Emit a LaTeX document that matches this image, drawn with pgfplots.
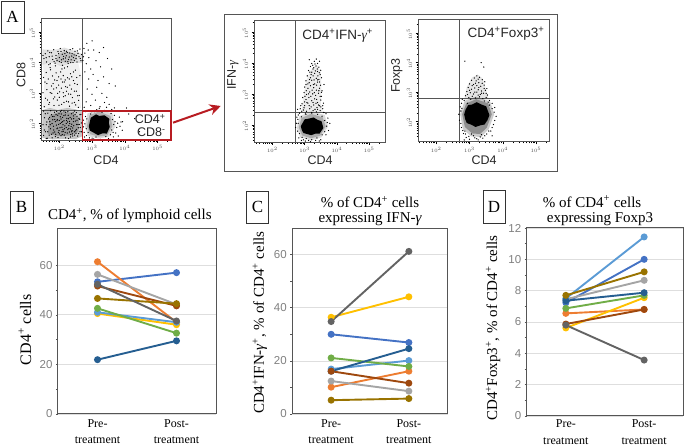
\documentclass[border=0pt]{standalone}
\usepackage{fontspec}
\setmainfont{Liberation Serif}
\newfontfamily\arial{Liberation Sans}
\usepackage{pgfplots}
\pgfplotsset{compat=1.18}
\usetikzlibrary{arrows.meta}

\definecolor{cBlue}{HTML}{4472C4}
\definecolor{cOrange}{HTML}{ED7D31}
\definecolor{cGray}{HTML}{A5A5A5}
\definecolor{cYellow}{HTML}{FFC000}
\definecolor{cLight}{HTML}{5B9BD5}
\definecolor{cGreen}{HTML}{70AD47}
\definecolor{cDark}{HTML}{255E91}
\definecolor{cBrown}{HTML}{9E480E}
\definecolor{cSlate}{HTML}{636363}
\definecolor{cOlive}{HTML}{997300}
\definecolor{frameC}{HTML}{555555}
\definecolor{tickC}{HTML}{808080}
\definecolor{redC}{HTML}{B81C22}

\tikzset{gate/.style={draw=frameC, line width=0.9pt}}
\pgfplotsset{
  paired/.style={
    scale only axis, anchor=south west,
    xmin=-0.5, xmax=1.5, ymin=0,
    xtick={0,1}, xticklabels={{Pre-\\[4.5pt]treatment},{Post-\\[4.5pt]treatment}},
    x tick label style={align=center, font=\fontsize{12}{12}\selectfont, yshift=0pt},
    x tick style={draw=none},
    axis line style={draw=frameC, line width=1pt},
    tick align=outside, ytick pos=left,
    y tick style={draw=frameC, line width=0.5pt},
    major tick length=2pt, minor tick length=2pt,
    minor y tick num=1,
    ymajorgrids, grid style={draw=black!13, line width=0.7pt},
    y tick label style={font=\arial\fontsize{11.5}{13}\selectfont, text=tickC, /pgf/number format/assume math mode=true},
    title style={font=\fontsize{15}{15}\selectfont, align=center},
    ylabel style={font=\fontsize{15}{16}\selectfont},
    every axis plot/.append style={line width=1.9pt, mark=*, mark size=2.5pt, mark options={solid}},
  },
  flow/.style={
    scale only axis, anchor=south west,
    axis line style={draw=frameC, line width=0.7pt},
    xtick={200,300,400,500}, ytick={200,300,400,500},
    xticklabels={$10^2$,$10^3$,$10^4$,$10^5$}, yticklabels={$10^2$,$10^3$,$10^4$,$10^5$},
    minor xtick={150,160,170,178,185,190,195,230,248,260,270,278,285,290,295,330,348,360,370,378,385,390,395,430,448,460,470,478,485,490,495,530},
    minor ytick={150,160,170,178,185,190,195,230,248,260,270,278,285,290,295,330,348,360,370,378,385,390,395,430,448,460,470,478,485,490,495,530},
    tick pos=left, tick align=outside,
    tick style={draw=black, line width=0.35pt},
    major tick length=2.6pt, minor tick length=1.6pt,
    x tick label style={font=\arial\fontsize{5.5}{6}\selectfont, text=black!70, yshift=1pt},
    y tick label style={font=\arial\fontsize{5.5}{6}\selectfont, text=black!70, rotate=90, anchor=south, xshift=-1pt},
  },
  dots/.style={only marks, mark=*, mark size=0.36pt, black, mark options={draw=none, fill=black}},
  haze/.style={fill=black, draw=none, opacity=#1},
}

\begin{document}
\begin{tikzpicture}[x=1pt,y=1pt]
\path[use as bounding box] (0,0) rectangle (685,446);

% --- A, gating plot
\begin{axis}[flow, at={(41.3pt,306pt)}, width=130.4pt, height=122pt, xmin=145, xmax=543, ymin=145, ymax=545]
\addplot[haze=0.22] coordinates {(148,152)(180,147)(215,149)(250,148)(272,158)(270,200)(274,238)(248,246)(225,250)(195,244)(170,250)(148,243)} -- cycle;
\addplot[haze=0.22] coordinates {(165,165)(195,158)(235,160)(258,172)(260,215)(240,235)(200,238)(170,225)} -- cycle;
\addplot[haze=0.12] coordinates {(148,392)(175,398)(205,388)(240,396)(272,398)(274,425)(250,436)(215,448)(185,440)(148,442)} -- cycle;
\addplot[haze=0.15] coordinates {(190,402)(225,398)(255,408)(250,428)(215,436)(195,424)} -- cycle;
\addplot[haze=0.06] coordinates {(150,250)(190,246)(266,250)(262,300)(268,350)(258,396)(205,390)(150,396)(154,330)} -- cycle;
\addplot[haze=0.15] coordinates {(278,190)(288,158)(320,150)(352,156)(372,190)(362,232)(320,245)(286,232)} -- cycle;
\addplot[haze=0.2] coordinates {(284,190)(294,164)(320,156)(346,160)(362,190)(356,224)(320,238)(292,226)} -- cycle;
\addplot[fill=black, draw=none] coordinates {(290,190)(293,176)(303,170)(318,161)(332,167)(345,166)(354,188)(351,202)(353,214)(338,226)(322,224)(312,229)(296,218)(293,204)} -- cycle;
\addplot[dots] coordinates {
(152,160)(158,172)(163,151)(168,188)(171,205)(176,164)(179,222)(183,178)(185,236)(188,156)(191,194)(194,212)(197,170)(199,231)(202,185)(205,159)(207,203)(210,219)(212,174)(214,240)(217,191)(219,152)(222,209)(224,168)(227,226)(229,183)(232,199)(234,155)(237,214)(239,176)(242,234)(244,192)(247,161)(249,207)(252,180)(254,223)(257,196)(259,166)(262,213)(264,186)(266,229)(155,218)(160,195)(165,233)(169,161)(174,241)(178,199)(181,168)(186,212)(190,228)(193,182)(196,153)(200,209)(204,238)(208,172)(211,195)(215,161)(218,227)(221,186)(225,204)(228,150)(233,219)(236,189)(240,165)(243,205)(246,240)(250,175)(253,196)(256,158)(260,216)(263,172)(267,201)
(216,182)(203,221)(231,171)(188,205)(244,215)(162,204)(209,163)(226,238)(178,152)(251,167)(195,226)(238,197)(154,178)(221,199)(207,242)(182,190)(263,228)(170,219)(235,163)(199,176)(248,229)(157,231)(214,208)(229,192)(186,171)(241,184)(173,182)(205,214)(258,185)(192,239)(223,216)(150,195)(211,179)(237,231)(165,172)(198,196)(246,172)(218,170)(180,211)(231,206)(254,210)(160,150)(208,187)(189,164)(226,179)(203,199)(268,172)(176,228)(241,158)(214,225)(195,184)(152,240)(234,181)(261,196)(184,222)(219,236)(167,214)(200,165)(243,224)(210,205)(228,215)(193,208)(172,195)(252,235)(206,230)(238,172)
(153,412)(157,428)(161,401)(165,437)(169,418)(172,395)(176,431)(180,409)(183,441)(187,397)(190,422)(193,406)(196,435)(200,415)(203,445)(206,399)(209,426)(212,411)(215,438)(218,403)(221,421)(224,432)(227,396)(230,417)(233,441)(236,408)(239,428)(242,399)(245,424)(248,436)(251,412)(254,401)(257,429)(260,418)(263,443)(266,405)(268,425)
(213,419)(228,409)(198,428)(243,415)(222,436)(207,408)(238,420)(217,428)(252,422)(190,412)(232,430)(205,435)(246,405)(178,420)(160,415)(171,432)(226,402)(255,437)(184,402)(150,422)(241,444)(264,412)(200,402)(219,414)(235,399)
(154,254)(158,282)(162,310)(166,345)(170,268)(173,375)(177,298)(181,330)(184,258)(188,388)(191,316)(194,276)(198,352)(201,303)(204,368)(207,262)(210,335)(213,287)(216,381)(219,320)(222,272)(225,349)(228,296)(231,256)(234,362)(237,312)(240,284)(243,340)(246,268)(249,374)(252,305)(255,327)(258,252)(261,291)(263,356)(156,335)(160,366)(164,276)(168,392)(172,300)(179,355)(186,286)(193,340)(199,259)(206,315)(212,356)(218,290)(225,385)(232,325)(239,266)(246,305)(253,350)(259,275)
(212,300)(183,312)(224,318)(200,285)(235,295)(168,262)(190,365)(218,342)(205,345)(243,368)(176,322)(230,345)(195,298)(152,350)(247,330)(214,268)(172,382)(256,290)(186,342)(208,378)(222,305)(162,330)(238,352)(198,325)(215,335)(150,300)(228,270)(182,280)(250,260)(210,390)
(275,445)(284,462)(300,470)(278,430)(290,415)(305,440)(322,432)(335,448)(282,395)(296,378)(312,405)(326,385)(347,412)(360,378)(278,368)(290,345)(303,360)(318,340)(335,352)(352,330)(371,322)(285,312)(300,295)(314,318)(330,298)(345,285)(282,270)(296,258)(310,276)(324,254)(338,268)(276,252)(352,262)(368,250)(405,250)(412,230)(393,205)(445,172)(430,215)(274,418)(272,405)(288,440)
(276,170)(280,222)(283,160)(286,240)(292,152)(298,238)(305,148)(314,244)(326,147)(338,242)(350,150)(358,232)(364,170)(370,205)(375,186)(380,158)(383,220)(392,177)(360,245)(344,252)(278,198)(282,182)
(274,210)(277,155)(288,170)(284,214)(300,151)(312,155)(308,238)(330,236)(322,249)(342,156)(356,162)(360,178)(366,196)(362,212)(368,226)(372,168)(378,200)(385,190)(350,240)(296,230)(274,188)(280,238)(365,155)(388,204)
};
\draw[gate] (axis cs:270,145) -- (axis cs:270,545);
\draw[gate, line width=0.7pt] (axis cs:145,243) -- (axis cs:270,243);
\end{axis}

% --- A, IFN-gamma plot
\begin{axis}[flow, at={(254.3pt,303.7pt)}, width=131.4pt, height=122.3pt, xmin=144, xmax=551, ymin=144, ymax=538]
\addplot[haze=0.08] coordinates {(290,240)(296,290)(304,340)(318,375)(338,395)(350,370)(352,320)(350,270)(356,240)} -- cycle;
\addplot[haze=0.14] coordinates {(276,190)(286,160)(320,150)(352,160)(372,195)(362,232)(320,244)(284,228)} -- cycle;
\addplot[haze=0.22] coordinates {(282,192)(292,166)(320,157)(348,165)(365,195)(356,224)(320,236)(290,222)} -- cycle;
\addplot[fill=black, draw=none] coordinates {(288,196)(291,184)(296,174)(320,167)(334,172)(346,172)(358,190)(352,212)(340,216)(328,224)(312,220)(300,218)} -- cycle;
\addplot[dots] coordinates {
(336,412)(330,405)(322,398)(340,398)(346,405)(318,388)(328,384)(335,390)(344,386)(350,376)(312,375)(322,370)(331,366)(340,372)(348,362)(308,358)(318,352)(326,358)(336,350)(344,346)(352,352)(304,342)(314,336)(322,344)(331,332)(340,338)(349,328)(300,322)(310,318)(318,326)(328,320)(336,312)(346,318)(354,310)(298,304)(306,298)(316,306)(325,300)(334,295)(343,302)(352,292)(294,288)(304,282)(313,288)(322,278)(331,284)(340,272)(350,280)(358,270)(292,268)(300,262)(310,270)(320,258)(328,264)(338,256)(346,262)(356,252)(286,252)(296,248)(306,244)(316,252)(326,246)(336,242)(348,246)(360,240)(284,238)(276,225)(274,205)(278,180)(282,158)(290,150)(302,148)(318,146)(334,150)(350,152)(366,168)(374,182)(378,205)(372,222)(366,236)(314,410)(326,380)(304,330)(360,330)(278,250)
(332,396)(339,380)(325,392)(345,368)(333,374)(320,362)(341,358)(329,345)(315,346)(337,328)(323,312)(344,310)(312,300)(330,304)(348,292)(301,292)(319,292)(337,282)(307,272)(326,272)(343,264)(298,255)(314,262)(332,250)(350,258)(291,244)(322,240)(340,250)(302,238)(356,262)(288,262)(310,332)(346,338)(316,370)(340,345)(327,330)(305,310)(352,305)(300,274)(335,270)
(280,205)(284,172)(292,160)(305,156)(322,152)(338,158)(354,168)(362,178)(368,196)(362,214)(354,228)(340,234)(322,238)(304,234)(290,226)(279,218)(272,192)(296,152)(312,150)(345,148)(370,208)(280,232)(358,240)
};
\draw[gate] (axis cs:271,144) -- (axis cs:271,538);
\draw[gate] (axis cs:144,240) -- (axis cs:551,240);
\end{axis}

% --- A, Foxp3 plot
\begin{axis}[flow, at={(418.3pt,304.3pt)}, width=130.7pt, height=122.7pt, xmin=146, xmax=539, ymin=132, ymax=548]
\addplot[haze=0.1] coordinates {(284,275)(292,318)(308,350)(325,360)(340,345)(350,305)(358,275)} -- cycle;
\addplot[haze=0.2] coordinates {(272,225)(280,175)(305,150)(335,148)(358,175)(374,225)(362,268)(320,285)(285,270)} -- cycle;
\addplot[haze=0.3] coordinates {(278,225)(286,182)(308,160)(332,158)(352,180)(367,225)(356,262)(320,276)(290,262)} -- cycle;
\addplot[fill=black, draw=none] coordinates {(284,225)(287,208)(292,195)(305,190)(318,182)(334,188)(345,190)(354,205)(360,222)(354,240)(350,252)(336,258)(322,266)(308,258)(296,256)(288,240)} -- cycle;
\addplot[dots] coordinates {
(322,355)(314,348)(330,350)(338,342)(306,340)(320,338)(328,332)(346,335)(300,328)(312,326)(322,322)(334,320)(344,324)(352,312)(296,316)(306,310)(316,314)(326,308)(336,304)(348,306)(292,302)(302,298)(312,294)(322,300)(332,292)(342,296)(354,290)(288,288)(298,282)(308,286)(318,280)(330,284)(340,278)(350,282)(360,272)(278,276)(272,250)(268,225)(270,205)(276,180)(282,160)(290,146)(300,140)(312,152)(326,138)(340,144)(352,158)(364,168)(372,190)(380,218)(376,248)(368,262)(368,152)(343,385)(286,405)(335,400)(277,245)(284,138)
(326,344)(318,330)(338,330)(308,322)(328,316)(344,312)(300,306)(316,300)(336,296)(350,296)(294,292)(326,290)(304,276)(344,270)(284,272)(356,266)(276,262)(274,236)(274,194)(280,170)(288,158)(298,150)(316,145)(332,148)(346,152)(358,168)(368,180)(376,204)(374,232)(368,244)(360,256)(294,262)(286,168)(306,158)(322,142)(336,156)
};
\draw[gate] (axis cs:271,132) -- (axis cs:271,548);
\draw[gate] (axis cs:146,277) -- (axis cs:539,277);
\end{axis}

\draw[frameC, line width=1pt] (224,431.3) rectangle (557.3,274);
\draw[redC, line width=1.3pt] (82.3,335) rectangle (171,306);
\draw[redC, line width=2pt, -{Stealth[length=11pt,width=11pt]}] (173,323.3) -- (220.7,340);

\begin{scope}[font=\arial\fontsize{12.5}{14}\selectfont, text=black!85]
\node[anchor=east] at (169,327) {CD4\textsuperscript{+}};
\node[anchor=east] at (169,313.5) {CD8\textsuperscript{-}};
\node at (106,285.5) {CD4};
\node[rotate=90] at (21,371) {CD8};
\node at (320,285.5) {CD4};
\node[rotate=90] at (233,371) {IFN-{\rmfamily\itshape γ}};
\node[font=\arial\fontsize{13.5}{14}\selectfont] at (337.7,410) {CD4\textsuperscript{+}IFN-{\rmfamily\itshape γ}\textsuperscript{+}};
\node at (484,285.5) {CD4};
\node[rotate=90] at (396.7,370.5) {Foxp3};
\node[font=\arial\fontsize{13.5}{14}\selectfont] at (506,412) {CD4\textsuperscript{+}Foxp3\textsuperscript{+}};
\end{scope}

% --- B
\begin{axis}[paired, at={(58pt,32pt)}, width=158pt, height=186pt, ymax=75, ytick={0,20,40,60},
  title={CD4\textsuperscript{+}, \% of lymphoid cells}, title style={at={(0.455,1)}, yshift=-4pt},
  ylabel={CD4\textsuperscript{+} cells}, ylabel style={at={(axis description cs:-0.209,0.452)}, anchor=center, font=\fontsize{16}{17}\selectfont}]
\addplot[cBlue] coordinates {(0,53.3)(1,57)};
\addplot[cOrange] coordinates {(0,61.4)(1,37)};
\addplot[cGray] coordinates {(0,56.3)(1,44.2)};
\addplot[cYellow] coordinates {(0,40.5)(1,36)};
\addplot[cLight] coordinates {(0,41)(1,37)};
\addplot[cGreen] coordinates {(0,42.6)(1,32.6)};
\addplot[cDark] coordinates {(0,21.9)(1,29.5)};
\addplot[cBrown] coordinates {(0,51.6)(1,43.6)};
\addplot[cOlive] coordinates {(0,46.6)(1,44.5)};
\addplot[cSlate] coordinates {(0,52.3)(1,37.5)};
\end{axis}

% --- C
\begin{axis}[paired, at={(292.3pt,32pt)}, width=155.4pt, height=186pt, ymax=70, ytick={0,20,40,60},
  title={\% of CD4\textsuperscript{+} cells\\expressing IFN-{\itshape γ}}, title style={yshift=-7pt},
  ylabel={CD4\textsuperscript{+}IFN-{\itshape γ}\textsuperscript{+}, \% of CD4\textsuperscript{+} cells}, ylabel style={at={(axis description cs:-0.208,0.49)}, anchor=center}]
\addplot[cBlue] coordinates {(0,30)(1,26.9)};
\addplot[cOrange] coordinates {(0,10.1)(1,16.1)};
\addplot[cGray] coordinates {(0,12.4)(1,8.6)};
\addplot[cYellow] coordinates {(0,36.4)(1,44.1)};
\addplot[cLight] coordinates {(0,16.9)(1,20.1)};
\addplot[cGreen] coordinates {(0,21.1)(1,17.9)};
\addplot[cDark] coordinates {(0,16.1)(1,24.6)};
\addplot[cBrown] coordinates {(0,16.1)(1,11.6)};
\addplot[cOlive] coordinates {(0,5.2)(1,5.8)};
\addplot[cSlate] coordinates {(0,34.8)(1,61.2)};
\end{axis}

% --- D
\begin{axis}[paired, at={(526.7pt,30pt)}, width=156.6pt, height=188pt, ymax=12, ytick={0,2,4,6,8,10,12},
  x tick label style={yshift=1.5pt},
  title={\mbox{\% of CD4\textsuperscript{+} cells\hspace{16pt}}\\expressing Foxp3}, title style={xshift=-5pt, yshift=-7pt},
  ylabel={CD4\textsuperscript{+}Foxp3\textsuperscript{+}, \% of CD4\textsuperscript{+} cells}, ylabel style={at={(axis description cs:-0.215,0.468)}, anchor=center}]
\addplot[cBlue] coordinates {(0,7.23)(1,10)};
\addplot[cOrange] coordinates {(0,6.55)(1,6.8)};
\addplot[cGray] coordinates {(0,7.45)(1,8.66)};
\addplot[cYellow] coordinates {(0,5.62)(1,7.55)};
\addplot[cLight] coordinates {(0,7.5)(1,11.43)};
\addplot[cGreen] coordinates {(0,6.87)(1,7.7)};
\addplot[cDark] coordinates {(0,7.36)(1,7.87)};
\addplot[cBrown] coordinates {(0,5.87)(1,6.8)};
\addplot[cOlive] coordinates {(0,7.7)(1,9.2)};
\addplot[cSlate] coordinates {(0,5.8)(1,3.57)};
\end{axis}

% --- panel letters
\begin{scope}[line width=0.7pt, draw=black!80, font=\fontsize{17}{18}\selectfont]
\draw (1,445) rectangle (24,413); \node at (12.5,429) {A};
\draw (10,255) rectangle (33,223); \node at (21.5,239) {B};
\draw (246.7,255) rectangle (268.3,223); \node at (257.5,239) {C};
\draw (483,256) rectangle (505,223); \node at (494,239.5) {D};
\end{scope}
\end{tikzpicture}
\end{document}
